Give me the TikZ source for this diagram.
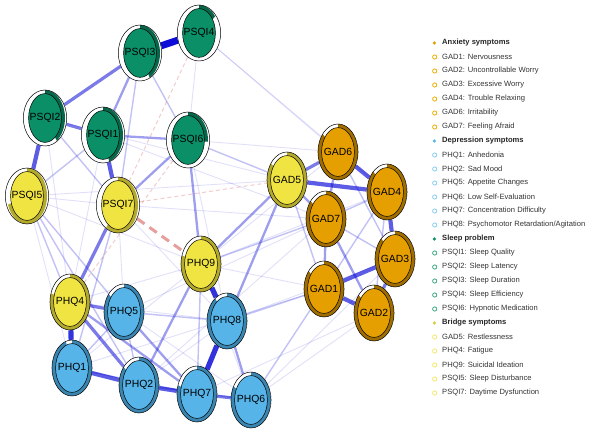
\documentclass[tikz,border=0pt]{standalone}
\usepackage{fontspec}
\setmainfont{Liberation Sans}
\usetikzlibrary{
	shapes.geometric,
	backgrounds,
	calc,
}
\definecolor{posblue}{RGB}{0,0,213}
\definecolor{negred}{RGB}{200,40,40}
\definecolor{GadFill}{HTML}{E69F00}
\definecolor{GadArc}{HTML}{A06E00}
\definecolor{PhqFill}{HTML}{56B4E9}
\definecolor{PhqArc}{HTML}{3A86B0}
\definecolor{PsqiFill}{HTML}{0A8F66}
\definecolor{PsqiArc}{HTML}{07664A}
\definecolor{BrFill}{HTML}{F0E442}
\definecolor{BrArc}{HTML}{B3A92C}
\newcommand\netfont{\fontsize{10.4bp}{12bp}\selectfont}
\newcommand\keyfont{\fontsize{7.6bp}{9bp}\selectfont}

\begin{document}
\begin{tikzpicture} [
            x=1bp, y=-1bp,
            sym/.style n args={3}{ellipse,draw=black,line width=0.5bp,fill=white,minimum width=40bp,minimum height=56bp,inner sep=0pt,font=\netfont,
                path picture={
                    \fill[#2] (path picture bounding box.center) -- ++(0pt,28bp) arc[start angle=90,delta angle={-360*#3},x radius=20bp,y radius=28bp] -- cycle;
                    \draw[line width=0.5bp,fill=#1] (path picture bounding box.center) ellipse[x radius=16.4bp,y radius=24.4bp];
                }},
            gad/.style={sym={GadFill}{GadArc}{#1}},
            phq/.style={sym={PhqFill}{PhqArc}{#1}},
            psqi/.style={sym={PsqiFill}{PsqiArc}{#1}},
            bridge/.style={sym={BrFill}{BrArc}{#1}},
            e1/.style={draw=posblue,draw opacity=0.12,line width=0.9bp},
            e2/.style={draw=posblue,draw opacity=0.24,line width=1.4bp},
            e3/.style={draw=posblue,draw opacity=0.38,line width=2.3bp},
            e4/.style={draw=posblue,draw opacity=0.52,line width=3.2bp},
            e5/.style={draw=posblue,draw opacity=0.64,line width=4.2bp},
            e6/.style={draw=posblue,draw opacity=0.80,line width=5.2bp},
            e7/.style={draw=posblue,draw opacity=0.95,line width=7bp},
            ng1/.style={draw=negred,draw opacity=0.24,line width=1bp,dash pattern=on 4bp off 3bp},
            ng2/.style={draw=negred,draw opacity=0.45,line width=3bp,dash pattern=on 9bp off 6bp},
            leghead/.style={anchor=west,inner sep=0pt,font=\keyfont\bfseries,text=black!85,
                label={[circle,fill=#1,inner sep=0pt,minimum size=3.6bp,xshift=-5.6bp]left:{}}},
            legitem/.style={anchor=west,inner sep=0pt,font=\keyfont,text=black!80,
                label={[circle,draw=#1,line width=0.8bp,inner sep=0pt,minimum size=4.2bp,xshift=-4.8bp]left:{}}}
        ]
        \useasboundingbox (0,0) rectangle (590,438);

        % sleep problem
        \node[psqi=0.15] (PSQI4) at (199,33) {PSQI4};
        \node[psqi=0.42] (PSQI3) at (140,53) {PSQI3};
        \node[psqi=0.40] (PSQI2) at (45,118) {PSQI2};
        \node[psqi=0.45] (PSQI1) at (103,135) {PSQI1};
        \node[psqi=0.26] (PSQI6) at (188,140) {PSQI6};

        % bridge symptoms
        \node[bridge=0.70] (PSQI5) at (27,196) {PSQI5};
        \node[bridge=0.60] (PSQI7) at (118,205) {PSQI7};
        \node[bridge=0.85] (GAD5) at (287,180) {GAD5};
        \node[bridge=0.80] (PHQ9) at (201,264) {PHQ9};
        \node[bridge=0.80] (PHQ4) at (70,302) {PHQ4};

        % anxiety
        \node[gad=0.86] (GAD6) at (338,152) {GAD6};
        \node[gad=0.88] (GAD4) at (387,192) {GAD4};
        \node[gad=0.86] (GAD7) at (326,219) {GAD7};
        \node[gad=0.88] (GAD3) at (395,259) {GAD3};
        \node[gad=0.86] (GAD1) at (324,289) {GAD1};
        \node[gad=0.86] (GAD2) at (374,313) {GAD2};

        % depression
        \node[phq=0.86] (PHQ5) at (124,312) {PHQ5};
        \node[phq=0.90] (PHQ8) at (227,321) {PHQ8};
        \node[phq=0.95] (PHQ1) at (72,368) {PHQ1};
        \node[phq=0.86] (PHQ2) at (139,385) {PHQ2};
        \node[phq=0.80] (PHQ7) at (197,394) {PHQ7};
        \node[phq=0.83] (PHQ6) at (251,400) {PHQ6};

        \begin{scope}[on background layer]
            % weak edges
            \draw[e1] (PSQI4) -- (PSQI6);
            \draw[e1] (PSQI4) -- (GAD6);
            \draw[e1] (PSQI4) -- (GAD4);
            \draw[e1] (PSQI6) -- (GAD6);
            \draw[e1] (PSQI6) -- (PHQ8);
            \draw[e1] (PSQI2) -- (PHQ4);
            \draw[e1] (PSQI1) -- (PHQ4);
            \draw[e1] (PSQI5) -- (PSQI7);
            \draw[e1] (PSQI5) -- (PHQ1);
            \draw[e1] (PSQI5) -- (PHQ9);
            \draw[e1] (PSQI5) -- (GAD5);
            \draw[e1] (PSQI7) -- (PHQ5);
            \draw[e1] (PSQI7) -- (PHQ8);
            \draw[e1] (PSQI7) -- (GAD7);
            \draw[e1] (PSQI2) -- (GAD5);
            \draw[e1] (PSQI1) -- (GAD7);
            \draw[e1] (GAD6) -- (PHQ9);
            \draw[e1] (GAD7) -- (PHQ5);
            \draw[e1] (GAD1) -- (PHQ9);
            \draw[e1] (GAD2) -- (PHQ7);
            \draw[e1] (GAD2) -- (PHQ6);
            \draw[e1] (GAD3) -- (PHQ6);
            \draw[e1] (GAD3) -- (PHQ8);
            \draw[e1] (GAD4) -- (PHQ9);
            \draw[e1] (PHQ4) -- (PHQ8);
            \draw[e1] (PHQ4) -- (PHQ9);
            \draw[e1] (PHQ1) -- (PHQ9);
            \draw[e1] (PHQ5) -- (PHQ6);
            \draw[e1] (PHQ2) -- (PHQ8);
            \draw[e1] (PHQ6) -- (PHQ9);
            \draw[e1] (PHQ1) -- (GAD1);
            \draw[e1] (PHQ2) -- (GAD7);
            % light edges
            \draw[e2] (PSQI3) -- (PSQI7);
            \draw[e2] (PSQI3) -- (PSQI6);
            \draw[e2] (PSQI1) -- (PSQI5);
            \draw[e2] (PSQI2) -- (PSQI7);
            \draw[e2] (PSQI6) -- (GAD5);
            \draw[e2] (PSQI5) -- (PHQ4);
            \draw[e2] (PSQI5) -- (PHQ5);
            \draw[e2] (PSQI5) -- (PHQ2);
            \draw[e2] (PSQI7) -- (PHQ1);
            \draw[e2] (GAD4) -- (GAD7);
            \draw[e2] (GAD4) -- (GAD1);
            \draw[e2] (GAD4) -- (GAD2);
            \draw[e2] (GAD3) -- (GAD7);
            \draw[e2] (GAD3) -- (GAD6);
            \draw[e2] (GAD5) -- (GAD1);
            \draw[e2] (GAD7) -- (PHQ9);
            \draw[e2] (GAD1) -- (PHQ8);
            \draw[e2] (GAD1) -- (PHQ6);
            \draw[e2] (PHQ1) -- (PHQ5);
            \draw[e2] (PHQ1) -- (PHQ7);
            \draw[e2] (PHQ5) -- (PHQ8);
            \draw[e2] (PHQ5) -- (PHQ2);
            \draw[e2] (PHQ2) -- (PHQ6);
            \draw[e2] (PHQ7) -- (PHQ9);
            % medium edges
            \draw[e3] (PSQI3) -- (PSQI1);
            \draw[e3] (PSQI1) -- (PSQI6);
            \draw[e3] (PSQI6) -- (PSQI7);
            \draw[e3] (PSQI6) -- (PHQ9);
            \draw[e3] (GAD5) -- (GAD7);
            \draw[e3] (GAD6) -- (GAD7);
            \draw[e3] (GAD7) -- (GAD1);
            \draw[e3] (GAD7) -- (GAD2);
            \draw[e3] (GAD5) -- (PHQ9);
            \draw[e3] (GAD5) -- (PHQ8);
            \draw[e3] (PHQ4) -- (PHQ7);
            \draw[e3] (PHQ5) -- (PHQ7);
            \draw[e3] (PHQ2) -- (PHQ9);
            \draw[e3] (PHQ8) -- (PHQ6);
            % strong edges
            \draw[e4] (PSQI3) -- (PSQI2);
            \draw[e4] (PSQI2) -- (PSQI1);
            \draw[e4] (PSQI7) -- (PHQ4);
            \draw[e4] (GAD5) -- (GAD6);
            \draw[e4] (GAD3) -- (GAD2);
            \draw[e4] (PHQ4) -- (PHQ5);
            \draw[e4] (PHQ4) -- (PHQ2);
            \draw[e4] (PHQ7) -- (PHQ6);
            \draw[e5] (PSQI2) -- (PSQI5);
            \draw[e5] (PSQI1) -- (PSQI7);
            \draw[e5] (GAD5) -- (GAD4);
            \draw[e5] (GAD6) -- (GAD4);
            \draw[e5] (GAD4) -- (GAD3);
            \draw[e5] (GAD3) -- (GAD1);
            \draw[e5] (GAD1) -- (GAD2);
            \draw[e5] (PHQ1) -- (PHQ2);
            \draw[e5] (PHQ2) -- (PHQ7);
            \draw[e6] (PHQ4) -- (PHQ1);
            \draw[e6] (PHQ7) -- (PHQ8);
            \draw[e6] (PHQ8) -- (PHQ9);
            \draw[e7] (PSQI3) -- (PSQI4);
            % negative edges
            \draw[ng1] (PSQI4) -- (PSQI7);
            \draw[ng1] (PSQI6) -- (PHQ4);
            \draw[ng1] (PSQI7) -- (GAD5);
            \draw[ng2] (PSQI7) -- (PHQ9);
        \end{scope}

        % legend
        \node[leghead=GadFill] (kAnx) at (442,43) {Anxiety symptoms};
        \node[legitem=GadFill!85!yellow] (kGAD1) at (442,57) {GAD1: Nervousness};
        \node[legitem=GadFill!85!yellow] (kGAD2) at (442,71) {GAD2: Uncontrollable Worry};
        \node[legitem=GadFill!85!yellow] (kGAD3) at (442,85) {GAD3: Excessive Worry};
        \node[legitem=GadFill!85!yellow] (kGAD4) at (442,99) {GAD4: Trouble Relaxing};
        \node[legitem=GadFill!85!yellow] (kGAD6) at (442,113) {GAD6: Irritability};
        \node[legitem=GadFill!85!yellow] (kGAD7) at (442,127) {GAD7: Feeling Afraid};
        \node[leghead=PhqFill] (kDep) at (442,141) {Depression symptoms};
        \node[legitem=PhqFill!70] (kPHQ1) at (442,155) {PHQ1: Anhedonia};
        \node[legitem=PhqFill!70] (kPHQ2) at (442,169) {PHQ2: Sad Mood};
        \node[legitem=PhqFill!70] (kPHQ5) at (442,183) {PHQ5: Appetite Changes};
        \node[legitem=PhqFill!70] (kPHQ6) at (442,197) {PHQ6: Low Self-Evaluation};
        \node[legitem=PhqFill!70] (kPHQ7) at (442,211) {PHQ7: Concentration Difficulty};
        \node[legitem=PhqFill!70] (kPHQ8) at (442,225) {PHQ8: Psychomotor Retardation/Agitation};
        \node[leghead=PsqiFill] (kSlp) at (442,239) {Sleep problem};
        \node[legitem=PsqiFill!80] (kPSQI1) at (442,253) {PSQI1: Sleep Quality};
        \node[legitem=PsqiFill!80] (kPSQI2) at (442,267) {PSQI2: Sleep Latency};
        \node[legitem=PsqiFill!80] (kPSQI3) at (442,281) {PSQI3: Sleep Duration};
        \node[legitem=PsqiFill!80] (kPSQI4) at (442,295) {PSQI4: Sleep Efficiency};
        \node[legitem=PsqiFill!80] (kPSQI6) at (442,309) {PSQI6: Hypnotic Medication};
        \node[leghead=BrFill!90!black] (kBr) at (442,323) {Bridge symptoms};
        \node[legitem=BrFill!80] (kGAD5) at (442,337) {GAD5: Restlessness};
        \node[legitem=BrFill!80] (kPHQ4) at (442,351) {PHQ4: Fatigue};
        \node[legitem=BrFill!80] (kPHQ9) at (442,365) {PHQ9: Suicidal Ideation};
        \node[legitem=BrFill!80] (kPSQI5) at (442,379) {PSQI5: Sleep Disturbance};
        \node[legitem=BrFill!80] (kPSQI7) at (442,393) {PSQI7: Daytime Dysfunction};
    \end{tikzpicture}
\end{document}
